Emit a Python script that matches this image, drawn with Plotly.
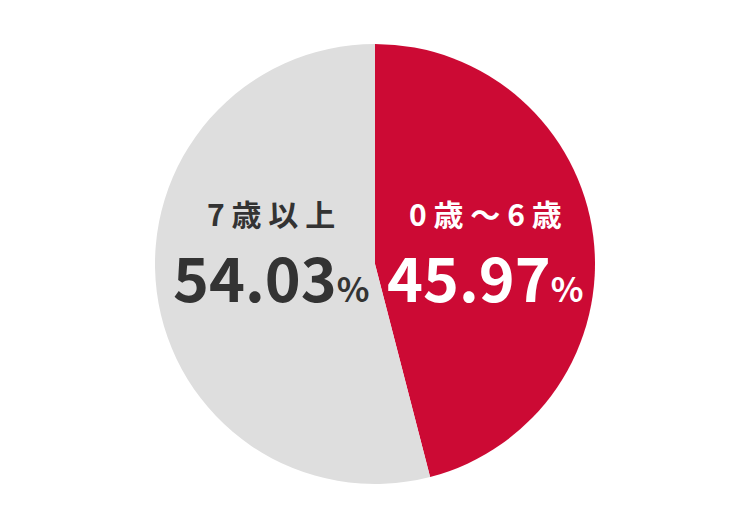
import plotly.graph_objects as go

labels = ["0歳～6歳", "7歳以上"]
values = [45.97, 54.03]
colors = ["#CC0A34", "#DEDEDE"]
text_colors = ["#FFFFFF", "#333333"]

W, H = 750, 528
OFF = 8  # page body margin shifts the figure by 8px

# label centres in the photographed page (pixels)
label_x = [485, 271]
label_y = 213
value_y = 275


def px(x):
    return (x - OFF) / W


def py(y):
    return 1 - (y - OFF) / H


fig = go.Figure()
fig.add_trace(go.Pie(
    labels=labels, values=values, sort=False, direction="clockwise",
    rotation=0, textinfo="none", hoverinfo="label+percent",
    marker=dict(colors=colors, line=dict(width=0)),
    domain=dict(x=[0, (2 * (375 - OFF)) / W],
                y=[1 - (484 - OFF) / H, 1 - (44 - OFF) / H]),
    showlegend=False,
))

cjk = "Noto Sans CJK JP"
for lab, val, col, xpix in zip(labels, values, text_colors, label_x):
    fig.add_annotation(
        x=px(xpix), y=py(label_y), xref="paper", yref="paper",
        text=" ".join(lab), showarrow=False,
        font=dict(family=cjk, size=30, color=col, weight=700),
    )
    fig.add_annotation(
        x=px(xpix), y=py(value_y), xref="paper", yref="paper",
        text=f"{val:.2f}<span style='font-size:34px'>%</span>", showarrow=False,
        font=dict(family=cjk, size=61, color=col, weight=700),
    )

fig.update_layout(
    width=W, height=H, margin=dict(l=0, r=0, t=0, b=0),
    paper_bgcolor="white", plot_bgcolor="white",
)

fig.write_html("out.html")
